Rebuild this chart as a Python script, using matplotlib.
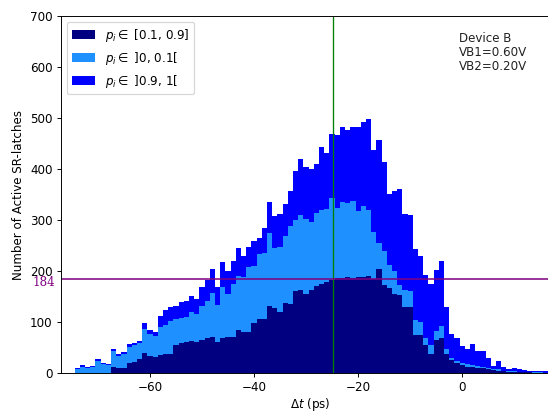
import numpy as np
import matplotlib
matplotlib.use('Agg')
import matplotlib.pyplot as plt

## histogram data, 1 ps bins from -74.5 ps to 16.5 ps
bin_edges = np.arange(-74.5, 17.0, 1.0)

# p_i in [0.1, 0.9]
n_mid = np.array([0, 0, 0, 0, 0, 0, 0,
                  12, 10, 10, 20, 22, 27, 40, 33, 32, 36,
                  38, 38, 55, 58, 60, 62, 60, 64, 68, 71,
                  60, 68, 70, 71, 85, 81, 81, 98, 105, 106,
                  131, 128, 120, 137, 136, 160, 163, 155, 163, 170,
                  174, 178, 183, 186, 187, 188, 186, 188, 188, 191,
                  184, 204, 173, 166, 155, 152, 129, 129, 74, 74,
                  55, 38, 64, 68, 38, 26, 19, 15, 12, 12,
                  10, 9, 7, 5, 4, 3, 2, 2, 1, 1,
                  1, 0, 0, 0])
# p_i in ]0, 0.1[
n_low = np.array([7, 12, 9, 11, 23, 18, 16,
                  31, 23, 27, 31, 32, 31, 46, 44, 40, 55,
                  57, 64, 50, 49, 50, 57, 56, 67, 73, 86,
                  74, 100, 85, 104, 106, 107, 126, 112, 128, 129,
                  143, 117, 128, 131, 152, 140, 146, 146, 134, 143,
                  146, 143, 161, 137, 149, 145, 152, 130, 140, 129,
                  93, 51, 67, 46, 45, 20, 33, 31, 30, 26,
                  13, 17, 18, 24, 10, 4, 4, 5, 5, 3,
                  3, 3, 2, 2, 4, 1, 1, 1, 1, 1,
                  0, 1, 1, 0])
# p_i in ]0.9, 1[
n_high = np.array([2, 4, 2, 3, 4, 2, 2,
                   4, 5, 5, 5, 4, 4, 13, 7, 9, 20,
                   28, 27, 26, 32, 31, 32, 30, 37, 42, 47,
                   34, 49, 45, 45, 55, 42, 41, 48, 32, 49,
                   62, 62, 63, 64, 68, 96, 111, 103, 103, 97,
                   123, 110, 124, 144, 146, 144, 144, 164, 164, 178,
                   161, 202, 174, 139, 157, 189, 149, 150, 139, 130,
                   124, 120, 120, 128, 81, 47, 45, 33, 30, 41,
                   30, 31, 21, 7, 16, 8, 5, 6, 6, 4,
                   3, 3, 3, 4])

median_dt = -24.8
threshold = 184

## figure
fig = plt.figure(figsize=(6.4, 4.8), dpi=85.625)
ax = fig.add_axes([61/548, 38/411, (560-61)/548, (373-16)/411])

c1 = n_mid
c2 = n_mid + n_low
c3 = n_mid + n_low + n_high
ax.stairs(c1, bin_edges, baseline=0, fill=True, color='navy', label=r'$p_i \in$ [0.1, 0.9]')
ax.stairs(c2, bin_edges, baseline=c1, fill=True, color='dodgerblue', label=r'$p_i \in$ ]0, 0.1[')
ax.stairs(c3, bin_edges, baseline=c2, fill=True, color='blue', label=r'$p_i \in$ ]0.9, 1[')

ax.axvline(median_dt, color='green', lw=1.1)
ax.axhline(threshold, color='purple', lw=1.3)
ax.text(-0.012, threshold - 6, str(threshold), color='purple', family='DejaVu Serif',
        ha='right', va='center', transform=ax.get_yaxis_transform())

ax.text(0.797, 0.955, 'Device B\nVB1=0.60V\nVB2=0.20V', transform=ax.transAxes,
        ha='left', va='top', linespacing=1.1, color='#222222')

ax.set_xlim(-77.1, 18.8)
ax.set_ylim(0, 700)
ax.set_xticks([-60, -40, -20, 0])
ax.set_xlabel(r'$\Delta t$ (ps)', labelpad=1)
ax.set_ylabel('Number of Active SR-latches')
ax.legend(loc='upper left')

plt.savefig('out.png', dpi=85.625)
